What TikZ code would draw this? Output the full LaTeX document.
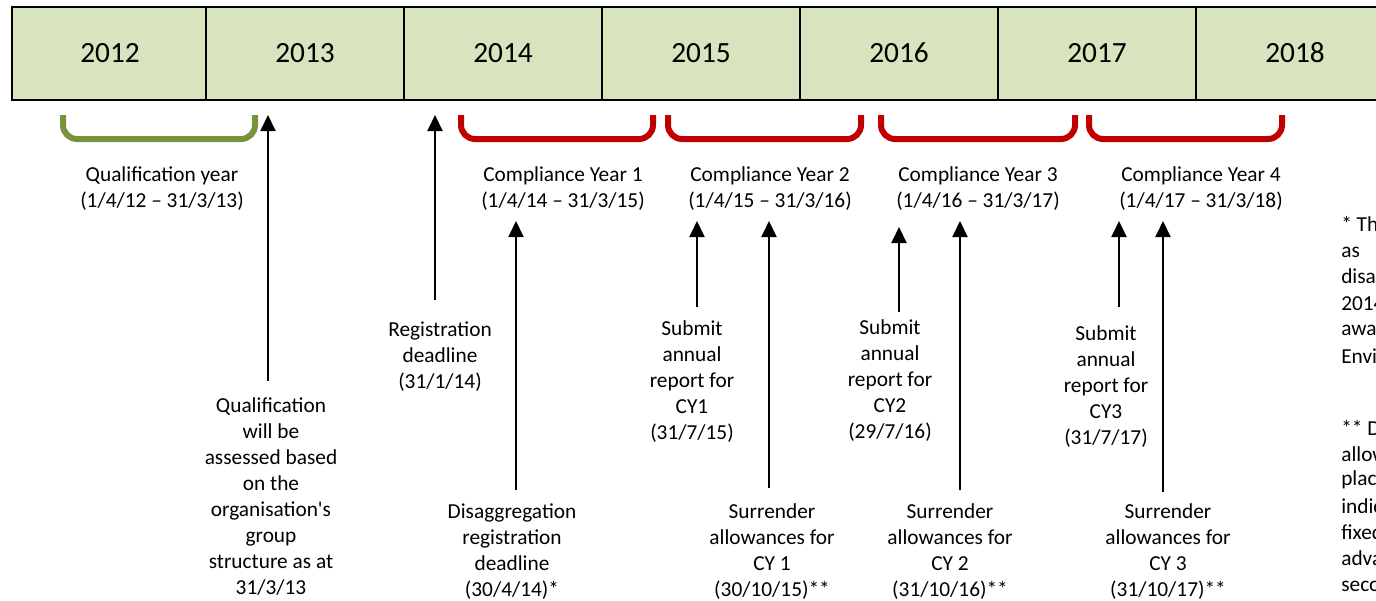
\documentclass[tikz,border=0pt]{standalone}
\usepackage{fontspec}
\setmainfont{Carlito}
\usetikzlibrary{arrows.meta}
\definecolor{barfill}{HTML}{D7E4BD}
\definecolor{qgreen}{HTML}{77933C}
\definecolor{cyred}{HTML}{C00000}
\newcommand{\straightq}{{\XeTeXglyph\XeTeXcharglyph"27\relax}}
\begin{document}
\begin{tikzpicture}[x=0.75pt,y=-0.75pt,
  lbl/.style={align=center, inner sep=0pt, font=\fontsize{16}{19.5}\selectfont},
  note/.style={anchor=west, inner sep=0pt, font=\fontsize{16}{19.5}\selectfont},
  yr/.style={inner sep=0pt, font=\fontsize{22}{26}\selectfont},
  arr/.style={line width=1.5pt, -{Triangle[width=11.25pt,length=12pt]}},
  brk/.style={line width=4.5pt, rounded corners=10.5pt},
]
\useasboundingbox (0,0) rectangle (1376,600);
\clip (0,0) rectangle (1376,600);
\fill[white] (0,0) rectangle (1376,600);
% timeline bar
\draw[line width=1.5pt, fill=barfill] (12,7) rectangle (1420,100);
\foreach \x in {206,404,602,800,998,1196} \draw[line width=1.5pt] (\x,7) -- (\x,100);
\node[yr] (y2012) at (110,53) {2012};
\node[yr] (y2013) at (305,53) {2013};
\node[yr] (y2014) at (503,53) {2014};
\node[yr] (y2015) at (701,53) {2015};
\node[yr] (y2016) at (899,53) {2016};
\node[yr] (y2017) at (1097,53) {2017};
\node[yr] (y2018) at (1295,53) {2018};
% brackets
\draw[brk, qgreen] (63,115) -- (63,139) -- (255,139) -- (255,115);
\draw[brk, cyred] (461,115) -- (461,139) -- (653,139) -- (653,115);
\draw[brk, cyred] (668,115) -- (668,139) -- (861,139) -- (861,115);
\draw[brk, cyred] (881,115) -- (881,139) -- (1075,139) -- (1075,115);
\draw[brk, cyred] (1089,115) -- (1089,139) -- (1282,139) -- (1282,115);
% period labels
\node[lbl] (qy) at (162,189) {Qualification year\\(1/4/12 -- 31/3/13)};
\node[lbl] (cy1) at (563,189) {Compliance Year 1\\(1/4/14 -- 31/3/15)};
\node[lbl] (cy2) at (770,189) {Compliance Year 2\\(1/4/15 -- 31/3/16)};
\node[lbl] (cy3) at (978,189) {Compliance Year 3\\(1/4/16 -- 31/3/17)};
\node[lbl] (cy4) at (1201,189) {Compliance Year 4\\(1/4/17 -- 31/3/18)};
% event labels
\node[lbl] (qual) at (271,497) {Qualification\\will be\\assessed based\\on the\\organisation\straightq s\\group\\structure as at\\31/3/13};
\node[lbl] (reg) at (440,357) {Registration\\deadline\\(31/1/14)};
\node[lbl] (dis) at (512,552) {Disaggregation\\registration\\deadline\\(30/4/14)*};
\node[lbl] (sub1) at (692,382) {Submit\\annual\\report for\\CY1\\(31/7/15)};
\node[lbl] (sur1) at (772,552) {Surrender\\allowances for\\CY 1\\(30/10/15)**};
\node[lbl] (sub2) at (890,381) {Submit\\annual\\report for\\CY2\\(29/7/16)};
\node[lbl] (sur2) at (950,552) {Surrender\\allowances for\\CY 2\\(31/10/16)**};
\node[lbl] (sub3) at (1106,387) {Submit\\annual\\report for\\CY3\\(31/7/17)};
\node[lbl] (sur3) at (1168,552) {Surrender\\allowances for\\CY 3\\(31/10/17)**};
% arrows
\coordinate (a1s) at (268,381); \coordinate (a1e) at (268,115);
\coordinate (a2s) at (435,300); \coordinate (a2e) at (435,115);
\coordinate (a3s) at (516,490); \coordinate (a3e) at (516,221);
\coordinate (a4s) at (697,307); \coordinate (a4e) at (697,221);
\coordinate (a5s) at (769,488); \coordinate (a5e) at (769,221);
\coordinate (a6s) at (899,312); \coordinate (a6e) at (899,227);
\coordinate (a7s) at (960,490); \coordinate (a7e) at (960,221);
\coordinate (a8s) at (1119,307); \coordinate (a8e) at (1119,221);
\coordinate (a9s) at (1163,492); \coordinate (a9e) at (1163,221);
\foreach \i in {1,...,9} \draw[arr] (a\i s) -- (a\i e);
% footnotes (clipped at right edge, as in the reference)
\node[note] (n1) at (1341,226) {* The Environment Agency};
\node[note] (n2) at (1341,252) {as\hspace{40pt}a};
\node[note] (n3) at (1341,278) {disaggregated};
\node[note] (n4) at (1341,304) {2014};
\node[note] (n5) at (1341,330) {awaiting};
\node[note] (n6) at (1341,356) {Environment};
\node[note] (m1) at (1341,428) {** Deadline};
\node[note] (m2) at (1341,454) {allowances};
\node[note] (m3) at (1341,480) {placed};
\node[note] (m4) at (1341,506) {indicative};
\node[note] (m5) at (1341,532) {fixed};
\node[note] (m6) at (1341,558) {advance};
\node[note] (m7) at (1341,584) {second};
\end{tikzpicture}
\end{document}
